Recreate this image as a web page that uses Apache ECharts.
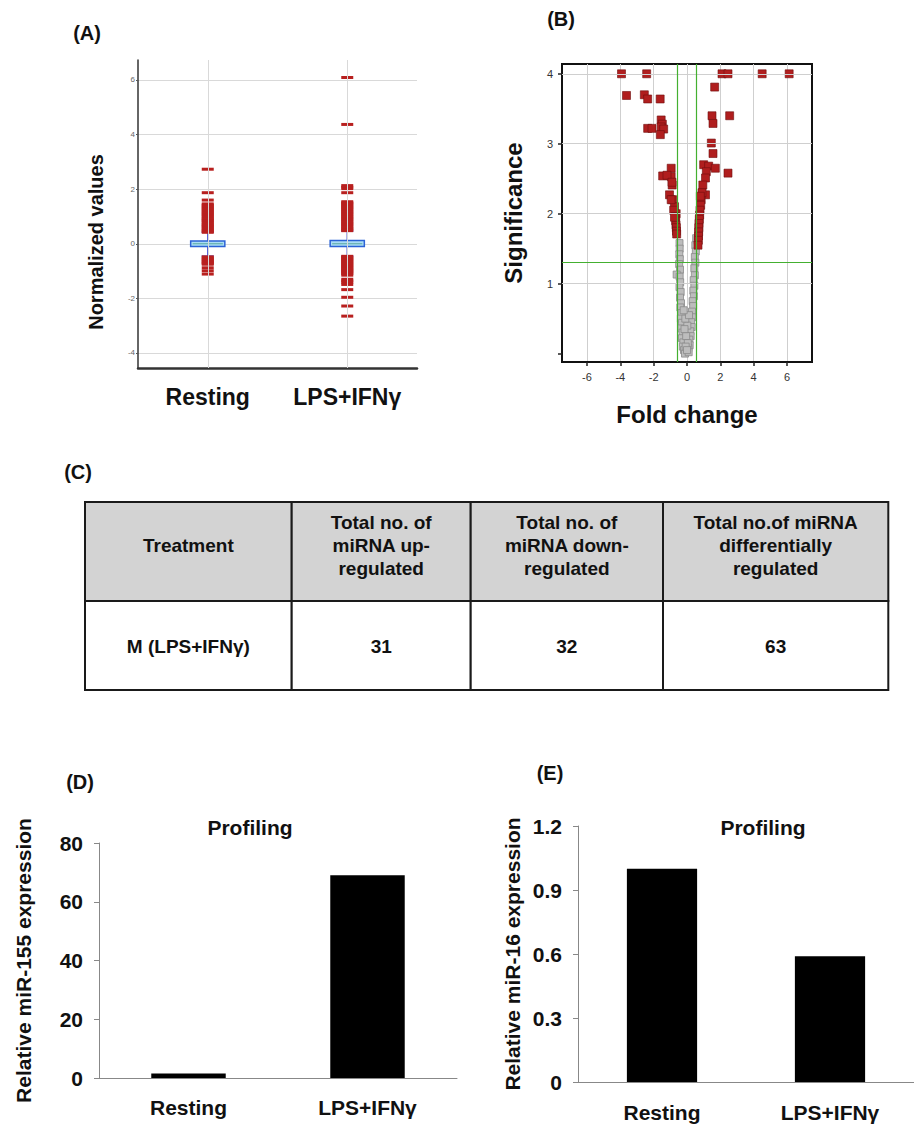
<!DOCTYPE html>
<html><head><meta charset="utf-8">
<script src="https://cdn.jsdelivr.net/npm/echarts@6/dist/echarts.min.js"></script>
<style>html,body{margin:0;padding:0;background:#fff;}#c{width:914px;height:1125px;}</style>
</head><body><div id="c"></div>
<script>
const FONT = "'Liberation Sans', Arial, Helvetica, sans-serif";

// ---------- Panel A : normalized values (box + outliers) ----------
const groupCategories = ['Resting', 'LPS+IFNγ'];
// [whisker low, Q1, median, Q3, whisker high]
const restingBox = [-0.45, -0.10, 0.00, 0.10, 0.42];
const lpsBox = [-0.45, -0.10, 0.00, 0.12, 0.46];
const restingOutliers = [2.73, 1.87, 1.60, 1.46, 1.42, 1.38, 1.33, 1.29, 1.24, 1.20, 1.16, 1.11, 1.07, 1.02, 0.98, 0.93, 0.89, 0.85, 0.80, 0.76, 0.71, 0.67, 0.63, 0.58, 0.54, 0.50, 0.46, 0.42,
  -0.48, -0.52, -0.56, -0.60, -0.64, -0.68, -0.72, -0.75, -0.88, -0.99, -1.11];
const lpsOutliers = [6.09, 4.37, 2.13, 2.07, 2.02, 1.87, 1.54, 1.50, 1.46, 1.42, 1.37, 1.33, 1.28, 1.24, 1.19, 1.15, 1.10, 1.06, 1.01, 0.97, 0.92, 0.88, 0.83, 0.79, 0.74, 0.70, 0.65, 0.61, 0.56, 0.52, 0.48,
  -0.46, -0.50, -0.54, -0.58, -0.62, -0.66, -0.70, -0.74, -0.78, -0.82, -0.86, -0.90, -0.94, -0.98, -1.02, -1.06, -1.10, -1.15, -1.30, -1.36, -1.41, -1.49, -1.68, -1.96, -2.28, -2.65];

// ---------- Panel B : volcano plot [fold change, significance] ----------
const upregulated = [[2.10, 4.00], [2.46, 4.00], [4.51, 4.00], [6.13, 4.00], [1.66, 3.81], [1.50, 3.40], [1.56, 3.29], [2.56, 3.40],
  [1.46, 3.01], [1.56, 2.86], [1.00, 2.70], [1.30, 2.68], [1.70, 2.65], [1.16, 2.60], [1.11, 2.51], [2.46, 2.58], [0.95, 2.41],
  [1.11, 2.27], [0.85, 2.20], [0.82, 2.12], [0.78, 2.05], [0.76, 1.98], [0.74, 1.92], [0.72, 1.86], [0.71, 1.80], [0.70, 1.74],
  [0.69, 1.68], [0.68, 1.62], [0.66, 1.55], [0.90, 2.30], [0.80, 2.25]];
const downregulated = [[-3.93, 4.00], [-2.42, 4.00], [-3.63, 3.69], [-2.56, 3.70], [-2.36, 3.64], [-1.61, 3.64], [-1.55, 3.34],
  [-1.48, 3.28], [-2.36, 3.22], [-2.10, 3.22], [-1.55, 3.24], [-1.40, 3.21], [-1.60, 3.13], [-0.95, 2.65], [-1.46, 2.54],
  [-0.95, 2.53], [-1.20, 2.55], [-0.89, 2.41], [-1.05, 2.27], [-0.86, 2.20], [-0.75, 2.10], [-0.65, 2.00], [-0.80, 2.05],
  [-0.70, 1.96], [-0.68, 1.90], [-0.66, 1.84], [-0.64, 1.80], [-0.63, 1.75], [-0.62, 1.71], [-0.75, 1.95], [-0.90, 2.45], [-0.95, 2.20]];
const notSignificant = [[-0.45, 1.58], [-0.44, 1.50], [-0.46, 1.42], [-0.43, 1.35], [-0.47, 1.28], [-0.42, 1.20], [-0.62, 1.13],
  [-0.44, 1.10], [-0.41, 1.02], [-0.45, 0.95], [-0.38, 0.88], [-0.42, 0.80], [-0.36, 0.72], [-0.40, 0.66], [-0.33, 0.58],
  [-0.37, 0.50], [-0.30, 0.44], [-0.34, 0.36], [-0.27, 0.30], [-0.30, 0.22], [-0.22, 0.16], [-0.25, 0.10], [-0.18, 0.05], [-0.12, 0.00],
  [0.55, 1.65], [0.50, 1.55], [0.53, 1.46], [0.47, 1.38], [0.50, 1.30], [0.44, 1.22], [0.47, 1.12], [0.40, 1.05], [0.44, 0.97],
  [0.38, 0.90], [0.41, 0.82], [0.34, 0.75], [0.37, 0.68], [0.30, 0.60], [0.32, 0.52], [0.25, 0.45], [0.28, 0.38], [0.20, 0.32],
  [0.22, 0.25], [0.14, 0.20], [0.16, 0.12], [0.08, 0.08], [0.10, 0.02], [-0.05, 0.25], [0.02, 0.40], [-0.10, 0.50], [0.05, 0.15],
  [-0.08, 0.10], [0.00, 0.05], [-0.15, 0.35], [0.12, 0.55], [-0.20, 0.62]];
const foldThresholds = [-0.58, 0.58];
const significanceThreshold = 1.3;
const significanceGrid = [1, 2, 3, 4];

// ---------- Panel C : table ----------
const tableHeader = ['Treatment', 'Total no. of\nmiRNA up-\nregulated', 'Total no. of\nmiRNA down-\nregulated', 'Total no.of miRNA\ndifferentially\nregulated'];
const tableRow = ['M (LPS+IFNγ)', 31, 32, 63];

// ---------- Panels D, E : profiling bars ----------
const profilingCategories = ['Resting', 'LPS+IFNγ'];
const mir155Values = [1.5, 69];
const mir16Values = [1.0, 0.59];

// ---------- layout helpers ----------
const bold = (size) => ({ fontFamily: FONT, fontWeight: 'bold', fontSize: size, color: '#111' });
function label(text, x, y, size, rotation) {
  return { type: 'text', x: x, y: y, rotation: rotation || 0,
    style: { text: text, fontFamily: FONT, fontWeight: 'bold', fontSize: size, fill: '#111', align: 'center', verticalAlign: 'middle' } };
}
const colEdges = [85, 291.7, 470.7, 663, 888.3];
const rowEdges = [502, 601, 690];
const tableGraphics = [];
for (let c = 0; c < 4; c++) {
  tableGraphics.push({ type: 'rect', shape: { x: colEdges[c], y: rowEdges[0], width: colEdges[c + 1] - colEdges[c], height: rowEdges[1] - rowEdges[0] }, style: { fill: '#d3d3d3', stroke: '#1a1a1a', lineWidth: 2 } });
  tableGraphics.push({ type: 'rect', shape: { x: colEdges[c], y: rowEdges[1], width: colEdges[c + 1] - colEdges[c], height: rowEdges[2] - rowEdges[1] }, style: { fill: '#fff', stroke: '#1a1a1a', lineWidth: 2 } });
  const cx = (colEdges[c] + colEdges[c + 1]) / 2;
  tableGraphics.push({ type: 'text', x: cx, y: 545, style: { text: tableHeader[c], fontFamily: FONT, fontWeight: 'bold', fontSize: 19, lineHeight: 23, fill: '#111', align: 'center', verticalAlign: 'middle' } });
  tableGraphics.push({ type: 'text', x: cx, y: 646, style: { text: String(tableRow[c]), fontFamily: FONT, fontWeight: 'bold', fontSize: 19, fill: '#111', align: 'center', verticalAlign: 'middle' } });
}

const chart = echarts.init(document.getElementById('c'), null, { renderer: 'svg' });
const option = {
  backgroundColor: '#fff',
  animation: false,
  textStyle: { fontFamily: FONT },
  grid: [
    { left: 138, top: 60, width: 279, height: 308 },
    { left: 562, top: 64, width: 250, height: 298, show: true, borderColor: '#111', borderWidth: 2 },
    { left: 99, top: 843, width: 358, height: 235 },
    { left: 578, top: 826, width: 344, height: 256 }
  ],
  xAxis: [
    { gridIndex: 0, type: 'category', data: groupCategories, boundaryGap: true,
      axisLine: { onZero: false, lineStyle: { color: '#333', width: 2.5 } },
      axisTick: { alignWithLabel: true, length: 3, lineStyle: { color: '#333' } },
      axisLabel: Object.assign({ margin: 17, interval: 0, hideOverlap: false }, bold(23)), splitLine: { show: false } },
    { gridIndex: 1, type: 'value', min: -7.5, max: 7.5, splitNumber: 7,
      name: 'Fold change', nameLocation: 'middle', nameGap: 40, nameTextStyle: bold(24),
      axisLine: { show: true, onZero: false, lineStyle: { color: '#111', width: 2 } },
      axisTick: { show: true, length: 4, lineStyle: { color: '#222', width: 1.5 } },
      axisLabel: { fontSize: 11, color: '#333', margin: 9, showMinLabel: false, showMaxLabel: false },
      splitLine: { show: true, showMinLine: false, showMaxLine: false, lineStyle: { color: '#cfcfcf' } } },
    { gridIndex: 2, type: 'category', data: profilingCategories, boundaryGap: true,
      axisLine: { onZero: false, lineStyle: { color: '#888' } }, axisTick: { length: 5, lineStyle: { color: '#888' } },
      axisLabel: Object.assign({ margin: 19, interval: 0 }, bold(21)) },
    { gridIndex: 3, type: 'category', data: profilingCategories, boundaryGap: true,
      axisLine: { onZero: false, lineStyle: { color: '#888' } }, axisTick: { length: 5, lineStyle: { color: '#888' } },
      axisLabel: Object.assign({ margin: 20, interval: 0 }, bold(21)) }
  ],
  yAxis: [
    { gridIndex: 0, type: 'value', min: -4.55, max: 6.73, splitNumber: 5,
      axisLine: { show: true, onZero: false, lineStyle: { color: '#333', width: 1.5 } },
      axisTick: { show: true, length: 2, lineStyle: { color: '#555' } },
      axisLabel: { fontSize: 8, color: '#666', margin: 3, showMinLabel: false, showMaxLabel: false },
      splitLine: { show: true, showMinLine: false, showMaxLine: false, lineStyle: { color: '#d9d9d9' } } },
    { gridIndex: 1, type: 'value', min: -0.12, max: 4.14, splitNumber: 5,
      name: 'Significance', nameLocation: 'middle', nameGap: 37, nameTextStyle: bold(24),
      axisLine: { show: true, onZero: false, lineStyle: { color: '#111', width: 2 } },
      axisTick: { show: true, length: 4, lineStyle: { color: '#222', width: 1.5 } },
      axisLabel: { fontSize: 11, color: '#333', margin: 9, showMinLabel: false, showMaxLabel: false,
        formatter: (v) => (v === 0 ? '' : String(v)) },
      splitLine: { show: false } },
    { gridIndex: 2, type: 'value', min: 0, max: 80, interval: 20,
      name: 'Relative miR-155 expression', nameLocation: 'middle', nameGap: 65, nameTextStyle: bold(21),
      axisLine: { show: true, lineStyle: { color: '#888' } }, axisTick: { show: true, length: 5, lineStyle: { color: '#888' } },
      axisLabel: Object.assign({ margin: 16 }, bold(21)), splitLine: { show: false } },
    { gridIndex: 3, type: 'value', min: 0, max: 1.2, interval: 0.3,
      name: 'Relative miR-16 expression', nameLocation: 'middle', nameGap: 55, nameTextStyle: bold(21),
      axisLine: { show: true, lineStyle: { color: '#888' } }, axisTick: { show: true, length: 5, lineStyle: { color: '#888' } },
      axisLabel: Object.assign({ margin: 16, formatter: (v) => String(Math.round(v * 10) / 10) }, bold(21)),
      splitLine: { show: false } }
  ],
  series: [
    { type: 'scatter', xAxisIndex: 0, yAxisIndex: 0, data: [], z: 1, silent: true,
      markLine: { silent: true, symbol: 'none', label: { show: false }, animation: false,
        lineStyle: { color: '#d9d9d9', type: 'solid', width: 1 },
        data: groupCategories.map((c) => ({ xAxis: c })) } },
    { type: 'custom', xAxisIndex: 0, yAxisIndex: 0, z: 3,
      data: [[0].concat(restingBox), [1].concat(lpsBox)],
      encode: { x: 0, y: [1, 2, 3, 4, 5] },
      renderItem: function (params, api) {
        const i = api.value(0);
        const cx = api.coord([i, 0])[0];
        const bw = api.size([1, 0])[0] * 0.245;
        const capW = bw * 0.36;
        const y = (k) => api.coord([i, api.value(k)])[1];
        const yLo = y(1), yQ1 = y(2), yMed = y(3), yQ3 = y(4), yHi = y(5);
        const wStyle = { stroke: '#5a62d8', lineWidth: 1.5 };
        return { type: 'group', children: [
          { type: 'line', shape: { x1: cx, y1: yQ3, x2: cx, y2: yHi }, style: wStyle },
          { type: 'line', shape: { x1: cx, y1: yQ1, x2: cx, y2: yLo }, style: wStyle },
          { type: 'line', shape: { x1: cx - capW / 2, y1: yHi, x2: cx + capW / 2, y2: yHi }, style: wStyle },
          { type: 'line', shape: { x1: cx - capW / 2, y1: yLo, x2: cx + capW / 2, y2: yLo }, style: wStyle },
          { type: 'rect', shape: { x: cx - bw / 2, y: yQ3, width: bw, height: yQ1 - yQ3 }, style: { fill: '#a9dcf5', stroke: '#2b63d6', lineWidth: 1.5 } },
          { type: 'line', shape: { x1: cx - bw / 2 + 2, y1: yMed, x2: cx + bw / 2 - 2, y2: yMed }, style: { stroke: '#5aa9a0', lineWidth: 1 } }
        ] };
      } },
    { type: 'scatter', xAxisIndex: 0, yAxisIndex: 0, z: 4, symbol: 'rect', symbolSize: [12, 3],
      itemStyle: { color: '#b8201f', opacity: 1 },
      data: restingOutliers.map((v) => [0, v]).concat(lpsOutliers.map((v) => [1, v])) },
    { type: 'scatter', xAxisIndex: 1, yAxisIndex: 1, data: [], z: 1, silent: true,
      markLine: { silent: true, symbol: 'none', label: { show: false }, animation: false,
        lineStyle: { color: '#cfcfcf', type: 'solid', width: 1 },
        data: significanceGrid.map((v) => ({ yAxis: v })) } },
    { type: 'scatter', xAxisIndex: 1, yAxisIndex: 1, data: [], z: 2, silent: true,
      markLine: { silent: true, symbol: 'none', label: { show: false }, animation: false,
        lineStyle: { color: '#44b030', type: 'solid', width: 1.2 },
        data: foldThresholds.map((v) => ({ xAxis: v })).concat([{ yAxis: significanceThreshold }]) } },
    { type: 'scatter', xAxisIndex: 1, yAxisIndex: 1, z: 3, symbol: 'rect', symbolSize: 7,
      itemStyle: { color: '#bdbdbd', borderColor: '#8a8a8a', borderWidth: 0.8, opacity: 1 },
      data: notSignificant },
    { type: 'scatter', xAxisIndex: 1, yAxisIndex: 1, z: 4, symbol: 'rect', symbolSize: 8,
      itemStyle: { color: '#b01e1e', borderColor: '#6e0e0e', borderWidth: 0.6, opacity: 1 },
      data: upregulated.concat(downregulated) },
    { type: 'bar', xAxisIndex: 2, yAxisIndex: 2, data: mir155Values, barWidth: '41.6%',
      itemStyle: { color: '#000' } },
    { type: 'bar', xAxisIndex: 3, yAxisIndex: 3, data: mir16Values, barWidth: '41.8%',
      itemStyle: { color: '#000' } }
  ],
  graphic: [
    label('(A)', 87, 33, 20),
    label('(B)', 561, 19, 20),
    label('(C)', 78, 472, 20),
    label('(D)', 80, 782, 20),
    label('(E)', 550, 773, 20),
    label('Normalized values', 96, 242, 20, Math.PI / 2),
    label('Profiling', 250, 827, 21),
    label('Profiling', 763, 827, 21)
  ].concat(tableGraphics)
};
chart.setOption(option);
</script>
</body></html>
